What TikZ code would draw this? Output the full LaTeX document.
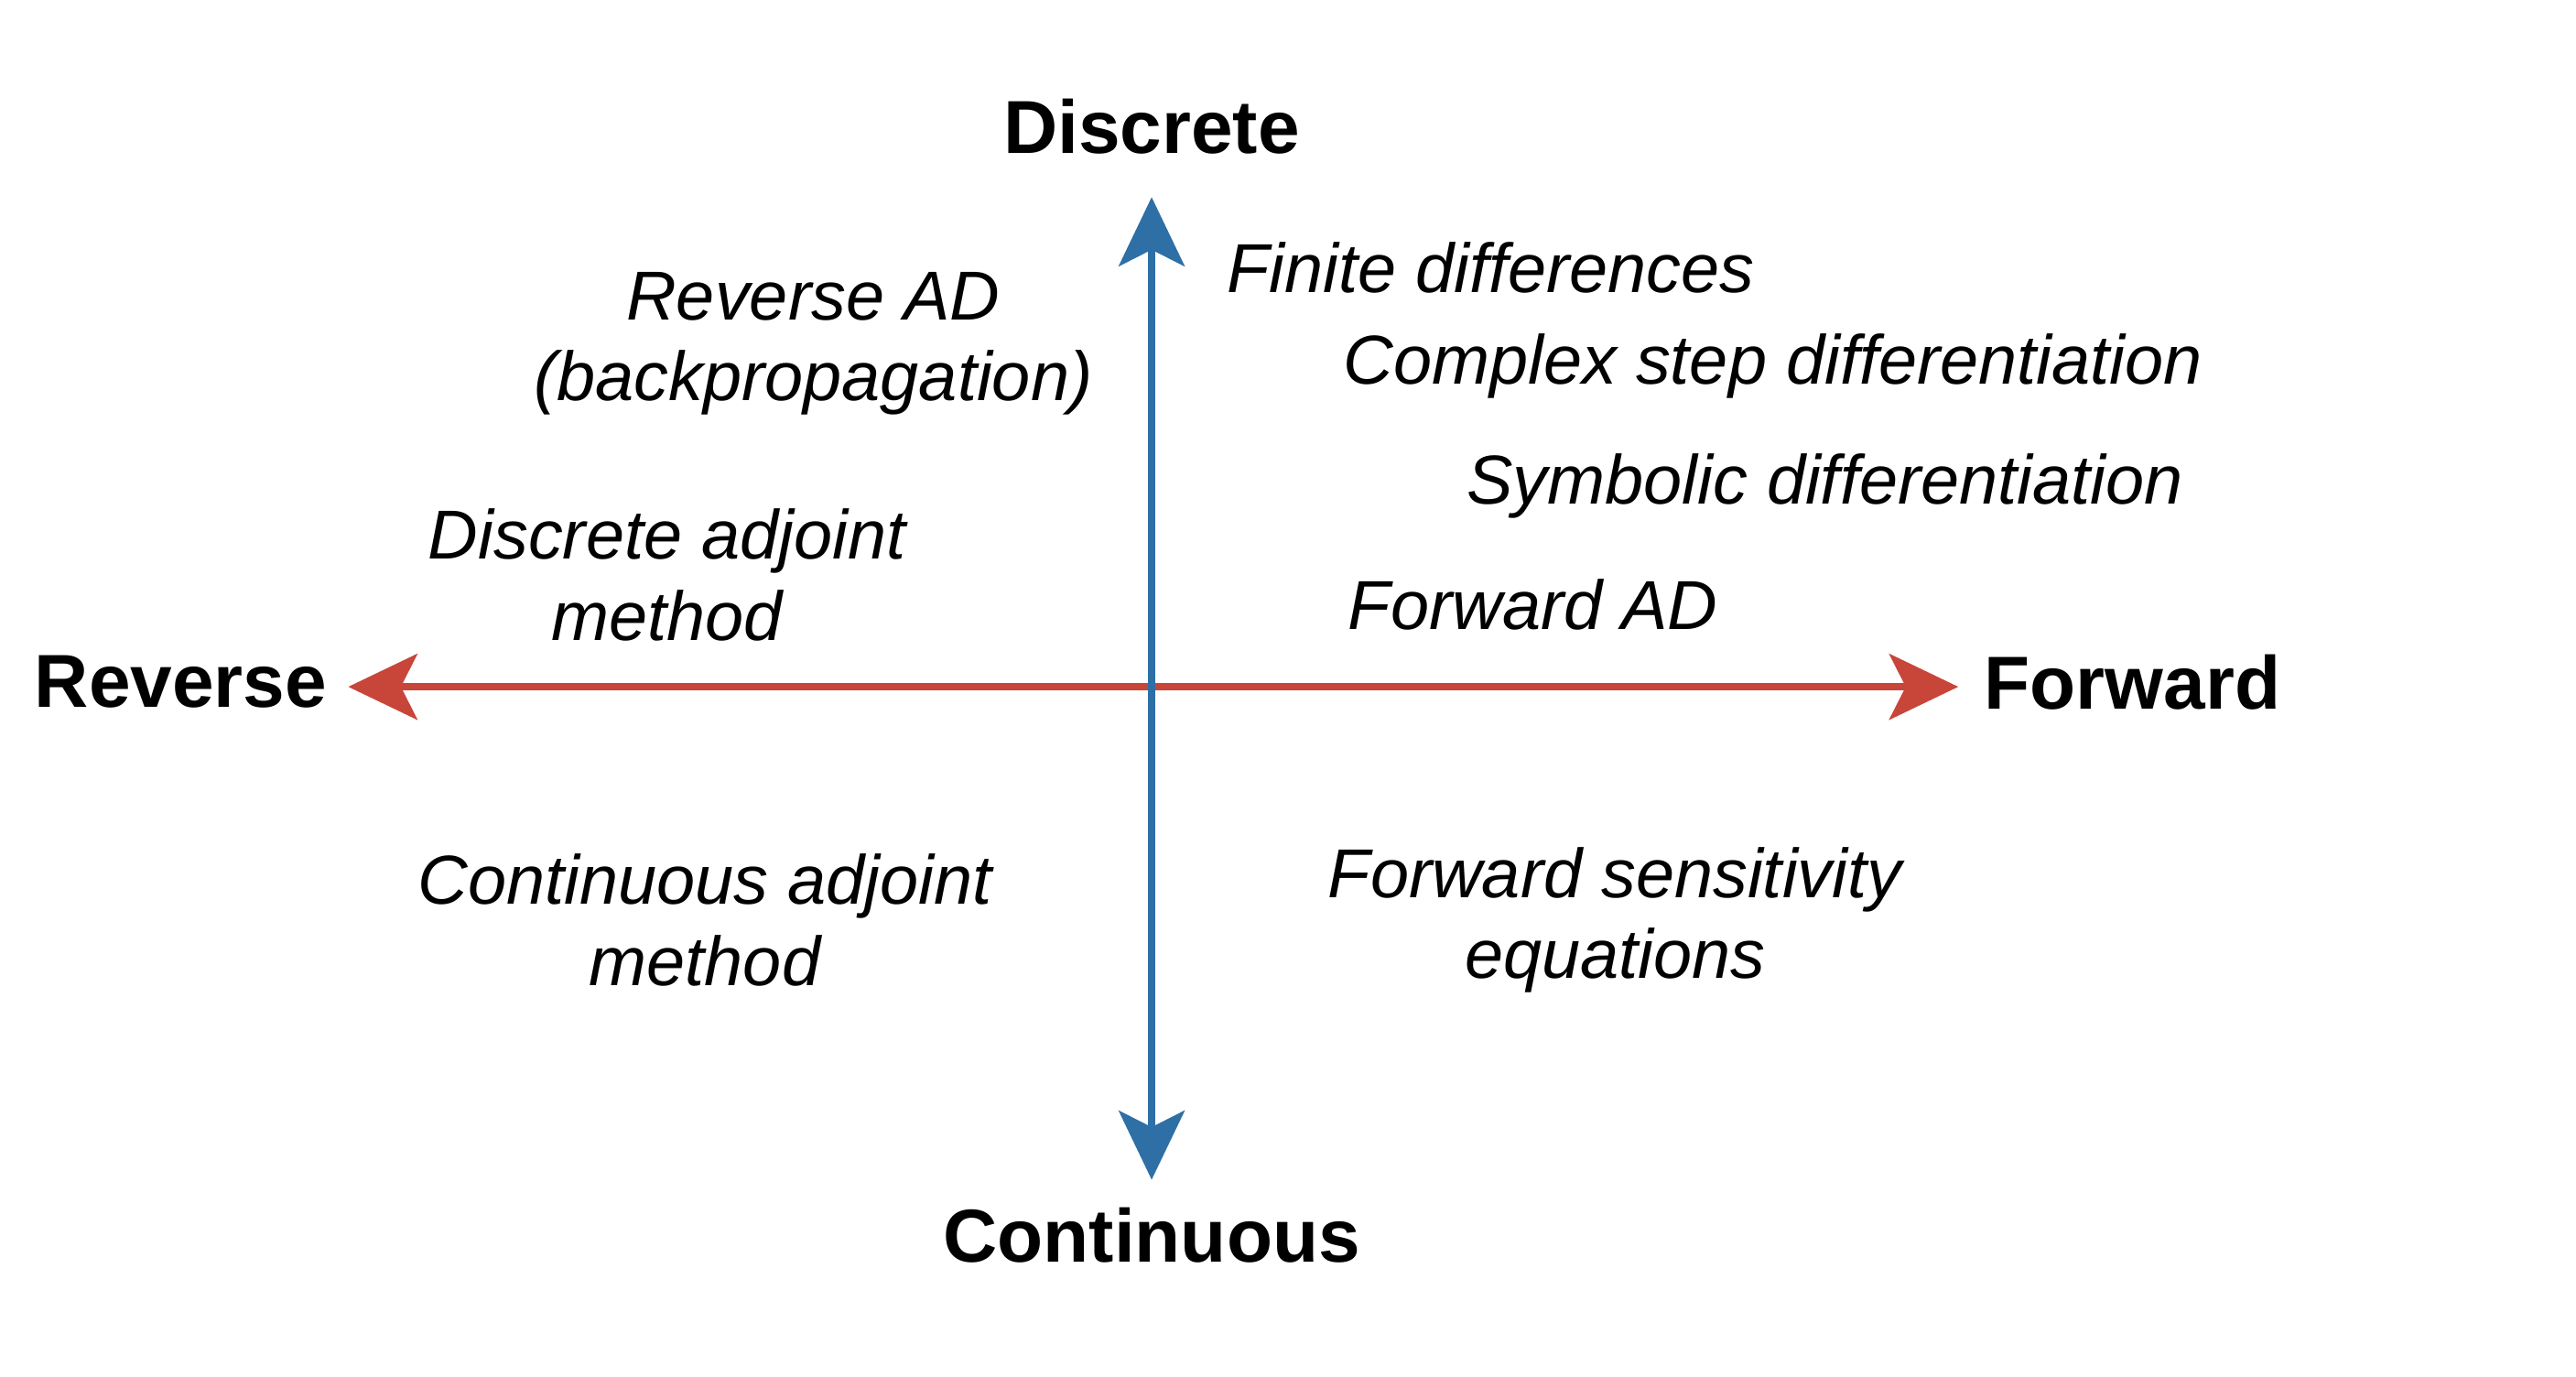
\documentclass[tikz,border=0pt]{standalone}
\usepackage{fontspec}
\setmainfont{Liberation Sans}
\usetikzlibrary{arrows.meta}
\definecolor{axblue}{HTML}{2E6FA6}
\definecolor{axred}{HTML}{C8453A}
\tikzset{>={Stealth[width=4mm,length=4.2mm,inset=1mm]}}

\begin{document}
\begin{tikzpicture}[axis/.style={very thick, line width=1.2pt}, axlabel/.style={font=\fontsize{13}{15}\selectfont\bfseries}, method/.style={font=\fontsize{12}{14}\selectfont\itshape, align=center, inner sep=0pt}]
    \useasboundingbox (0,0) rectangle (15.68,8.38);

    %Axis ends
    \coordinate (top) at (7.01,7.18);
    \coordinate (bottom) at (7.01,1.20);
    \coordinate (left) at (2.12,4.20);
    \coordinate (right) at (11.92,4.20);

    %Axis labels
    \node[axlabel](discrete) at (7.01,7.61){Discrete};
    \node[axlabel](continuous) at (7.01,0.86){Continuous};
    \node[axlabel](reverse) at (1.10,4.23){Reverse};
    \node[axlabel](forward) at (12.98,4.23){Forward};

    %Methods
    \node[method](revad) at (4.95,6.29){Reverse AD\\(backpropagation)};
    \node[method, anchor=west](finite) at (7.46,6.75){Finite differences};
    \node[method, anchor=west](complex) at (8.17,6.15){Complex step differentiation};
    \node[method, anchor=west](symbolic) at (8.92,5.42){Symbolic differentiation};
    \node[method, anchor=west](fwdad) at (8.20,4.70){Forward AD};
    \node[method](discadj) at (4.06,4.88){Discrete adjoint\\method};
    \node[method](contadj) at (4.29,2.78){Continuous adjoint\\method};
    \node[method](fwdsens) at (9.83,2.78){Forward sensitivity\\equations};

    %Lines
    \draw[axis, axred, <->] (left) -- (right);
    \draw[axis, axblue, <->] (bottom) -- (top);

\end{tikzpicture}
\end{document}
